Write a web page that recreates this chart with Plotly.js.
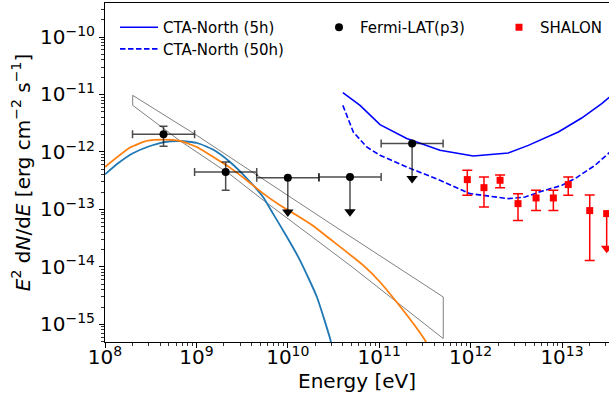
<!DOCTYPE html>
<html>
<head>
<meta charset="utf-8">
<script src="https://cdn.plot.ly/plotly-3.0.1.min.js"></script>
<style>html,body{margin:0;padding:0;background:#fff;}#chart{width:609px;height:401px;}</style>
</head>
<body>
<div id="chart"></div>
<script>
// ---------------- data ----------------
// tick decades
const xTickExp = [8, 9, 10, 11, 12, 13];
const yTickExp = [-15, -14, -13, -12, -11, -10];

// CTA-North sensitivity, 5h
const cta5_E = [4.0e10, 6.17e10, 1.02e11, 2.00e11, 4.62e11, 1.07e12, 2.58e12, 4.28e12, 9.12e12, 1.64e13, 2.72e13, 3.52e13];
const cta5_F = [1.08e-11, 6.47e-12, 2.99e-12, 1.71e-12, 1.07e-12, 8.49e-13, 9.57e-13, 1.30e-12, 2.22e-12, 3.89e-12, 6.93e-12, 9.82e-12];
// CTA-North sensitivity, 50h
const cta50_E = [4.0e10, 5.21e10, 7.29e10, 1.02e11, 2.00e11, 4.62e11, 9.84e11, 2.58e12, 3.94e12, 6.00e12, 9.93e12, 1.39e13, 2.30e13, 3.21e13, 3.52e13];
const cta50_F = [6.47e-12, 2.22e-12, 1.22e-12, 8.73e-13, 5.47e-13, 3.21e-13, 1.88e-13, 1.54e-13, 1.64e-13, 2.07e-13, 2.62e-13, 3.44e-13, 5.85e-13, 9.35e-13, 1.07e-12];

// Fermi-LAT (p3) points
const fermi_E    = [4.37e8, 2.09e9, 1.0e10, 4.79e10, 2.29e11];
const fermi_Elo  = [2.0e8, 9.55e8, 4.57e9, 2.19e10, 1.05e11];
const fermi_Ehi  = [9.55e8, 4.57e9, 2.19e10, 1.05e11, 5.0e11];
const fermi_F    = [2.03e-12, 4.48e-13, 3.57e-13, 3.66e-13, 1.40e-12];
const fermi_Fhi  = [2.79e-12, 6.68e-13, null, null, null];
const fermi_Flo  = [1.25e-12, 2.15e-13, 9.0e-14, 9.1e-14, 3.45e-13];
const fermi_UL   = [false, false, true, true, true];

// SHALON points
const shalon_E   = [9.2e11, 1.40e12, 2.10e12, 3.30e12, 5.20e12, 8.04e12, 1.17e13, 2.01e13, 3.08e13];
const shalon_F   = [3.30e-13, 2.39e-13, 3.21e-13, 1.26e-13, 1.58e-13, 1.58e-13, 2.70e-13, 9.53e-14, 8.45e-14];
const shalon_Fhi = [4.79e-13, 3.66e-13, 3.97e-13, 1.88e-13, 2.15e-13, 2.15e-13, 3.66e-13, 1.78e-13, null];
const shalon_Flo = [1.76e-13, 1.10e-13, 2.39e-13, 6.38e-14, 9.53e-14, 9.53e-14, 1.76e-13, 1.29e-14, 2.1e-14];
const shalon_UL  = [false, false, false, false, false, false, false, false, true];

// Model curves
const modelA_E = [1.0e8, 1.39e8, 2.02e8, 2.95e8, 4.32e8, 6.62e8, 1.02e9, 1.52e9, 2.33e9, 3.58e9, 5.36e9, 6.89e9, 9.79e9, 1.36e10, 2.08e10, 2.90e10, 3.13e10];
const modelA_F = [4.07e-13, 6.34e-13, 9.46e-13, 1.23e-12, 1.47e-12, 1.55e-12, 1.43e-12, 1.10e-12, 6.68e-13, 3.44e-13, 1.64e-13, 8.45e-14, 3.30e-14, 1.30e-14, 2.99e-15, 5.64e-16, 3.24e-16];
const modelB_E = [1.0e8, 1.88e8, 2.86e8, 4.35e8, 6.62e8, 1.01e9, 1.53e9, 2.33e9, 3.55e9, 5.40e9, 8.22e9, 1.25e10, 1.90e10, 2.90e10, 6.70e10, 1.02e11, 1.55e11, 2.36e11, 3.17e11, 3.42e11];
const modelB_F = [5.47e-13, 1.19e-12, 1.55e-12, 1.64e-12, 1.55e-12, 1.22e-12, 8.17e-13, 5.33e-13, 3.21e-13, 1.88e-13, 1.18e-13, 7.89e-14, 5.15e-14, 3.05e-14, 1.06e-14, 5.45e-15, 2.44e-15, 1.03e-15, 5.27e-16, 4.17e-16];

// Fermi butterfly (upper and lower edges)
const bfly_up_E  = [2.01e8, 1.01e9, 2.90e10, 5.02e11];
const bfly_up_F  = [9.66e-12, 1.94e-12, 5.73e-14, 2.99e-15];
const bfly_lo_E  = [2.01e8, 6.62e8, 2.33e9, 5.40e9, 2.07e10, 4.80e10, 5.02e11];
const bfly_lo_F  = [6.47e-12, 1.56e-12, 4.08e-13, 1.44e-13, 2.90e-14, 1.06e-14, 5.64e-16];

// ---------------- build traces ----------------
const FONT = 'DejaVu Sans, sans-serif';
function pick(arr, flags, want){ return arr.filter((v,i)=>flags[i]===want); }
function powLabel(e){ return '10<sup><span style="font-size:14px">' + (e < 0 ? '\u2212' : '') + Math.abs(e) + '</span></sup>'; }
function minorVals(exps){
  const out = [];
  for (let e = exps[0] - 1; e <= exps[exps.length - 1]; e++) for (let m = 2; m <= 9; m++) out.push(m * Math.pow(10, e));
  return out;
}

const bflyX = bfly_up_E.concat(bfly_lo_E.slice().reverse(), [bfly_up_E[0]]);
const bflyY = bfly_up_F.concat(bfly_lo_F.slice().reverse(), [bfly_up_F[0]]);

const fd = {E: pick(fermi_E, fermi_UL, false), lo: pick(fermi_Elo, fermi_UL, false), hi: pick(fermi_Ehi, fermi_UL, false),
            F: pick(fermi_F, fermi_UL, false), Fhi: pick(fermi_Fhi, fermi_UL, false), Flo: pick(fermi_Flo, fermi_UL, false)};
const fu = {E: pick(fermi_E, fermi_UL, true), lo: pick(fermi_Elo, fermi_UL, true), hi: pick(fermi_Ehi, fermi_UL, true),
            F: pick(fermi_F, fermi_UL, true), Flo: pick(fermi_Flo, fermi_UL, true)};
const sd = {E: pick(shalon_E, shalon_UL, false), F: pick(shalon_F, shalon_UL, false),
            Fhi: pick(shalon_Fhi, shalon_UL, false), Flo: pick(shalon_Flo, shalon_UL, false)};
const su = {E: pick(shalon_E, shalon_UL, true), F: pick(shalon_F, shalon_UL, true), Flo: pick(shalon_Flo, shalon_UL, true)};

const ERRC = 'rgba(0,0,0,0.7)';
const traces = [
  {x: bflyX, y: bflyY, mode:'lines', line:{color:'#808080', width:1}, showlegend:false, hoverinfo:'skip'},
  {x: modelA_E, y: modelA_F, mode:'lines', line:{color:'#1f77b4', width:1.8, shape:'spline', smoothing:0.5}, showlegend:false},
  {x: modelB_E, y: modelB_F, mode:'lines', line:{color:'#ff7f0e', width:1.8, shape:'spline', smoothing:0.5}, showlegend:false},
  {x: cta5_E, y: cta5_F, mode:'lines', name:'CTA-North (5h)', line:{color:'#0000ff', width:1.6}, legend:'legend'},
  {x: cta50_E, y: cta50_F, mode:'lines', name:'CTA-North (50h)', line:{color:'#0000ff', width:1.6, dash:'5.5px,2.5px'}, legend:'legend4'},
  {x: fu.E, y: fu.F, mode:'markers', marker:{color:'#000', size:8, symbol:'circle'}, showlegend:false,
   error_x:{type:'data', symmetric:false, array: fu.hi.map((v,i)=>v-fu.E[i]), arrayminus: fu.lo.map((v,i)=>fu.E[i]-v), color:ERRC, thickness:1.5, width:4},
   error_y:{type:'data', symmetric:false, array: fu.F.map(()=>0), arrayminus: fu.Flo.map((v,i)=>fu.F[i]-v), color:ERRC, thickness:1.5, width:0}},
  {x: fu.E, y: fu.Flo, mode:'markers', marker:{color:'#000', size:10, symbol:'triangle-down'}, showlegend:false},
  {x: fd.E, y: fd.F, mode:'markers', name:'Fermi-LAT(p3)', legend:'legend2', marker:{color:'#000', size:8, symbol:'circle'},
   error_x:{type:'data', symmetric:false, array: fd.hi.map((v,i)=>v-fd.E[i]), arrayminus: fd.lo.map((v,i)=>fd.E[i]-v), color:ERRC, thickness:1.5, width:4},
   error_y:{type:'data', symmetric:false, array: fd.Fhi.map((v,i)=>v-fd.F[i]), arrayminus: fd.Flo.map((v,i)=>fd.F[i]-v), color:ERRC, thickness:1.5, width:4}},
  {x: sd.E, y: sd.F, mode:'markers', name:'SHALON', legend:'legend3', marker:{color:'#ff0000', size:7, symbol:'square'},
   error_y:{type:'data', symmetric:false, array: sd.Fhi.map((v,i)=>v-sd.F[i]), arrayminus: sd.Flo.map((v,i)=>sd.F[i]-v), color:'#ff0000', thickness:1.5, width:5}},
  {x: su.E, y: su.F, mode:'markers', marker:{color:'#ff0000', size:7, symbol:'square'}, showlegend:false,
   error_y:{type:'data', symmetric:false, array: su.F.map(()=>0), arrayminus: su.Flo.map((v,i)=>su.F[i]-v), color:'#ff0000', thickness:1.5, width:0}},
  {x: su.E, y: su.Flo, mode:'markers', marker:{color:'#ff0000', size:10, symbol:'triangle-down'}, showlegend:false}
];

const L = 105, R = 609, W = R - L, PH = 339;
function px(p){ return (p - L) / W; }
function py(p){ return 1 - p / PH; }
const legBase = {bgcolor:'rgba(0,0,0,0)', borderwidth:0, font:{family:FONT, size:15, color:'#000'},
                 xanchor:'left', yanchor:'top', tracegroupgap:0, orientation:'v'};
const axBase = {type:'log', showline:true, linecolor:'#000', linewidth:1, showgrid:false, zeroline:false,
                ticks:'outside', ticklen:5, tickwidth:1, tickcolor:'#000', tickmode:'array',
                tickfont:{family:FONT, size:20, color:'#000'}};

const layout = {
  width: 609, height: 401,
  margin: {l:105, r:0, t:3, b:59, pad:0},
  paper_bgcolor:'#fff', plot_bgcolor:'#fff',
  font:{family:FONT, size:20, color:'#000'},
  showlegend:true,
  legend:  Object.assign({}, legBase, {x: px(115), y: py(8), itemwidth:38}),
  legend4: Object.assign({}, legBase, {x: px(115), y: py(29.6), itemwidth:38}),
  legend2: Object.assign({}, legBase, {x: px(318), y: py(8), itemwidth:32}),
  legend3: Object.assign({}, legBase, {x: px(498), y: py(8), itemwidth:32}),
  xaxis: Object.assign({}, axBase, {range:[8, 13.514], mirror:true, ticklabelstandoff:-8,
          tickvals: xTickExp.map(e=>Math.pow(10,e)), ticktext: xTickExp.map(powLabel),
          minor:{tickmode:'array', tickvals: minorVals(xTickExp), ticks:'outside', ticklen:3, tickwidth:0.8, tickcolor:'#000', showgrid:false},
          title:{text:'Energy [eV]', font:{family:FONT, size:20, color:'#000'}, standoff:4}}),
  yaxis: Object.assign({}, axBase, {range:[-15.308, -9.408], mirror:false,
          tickvals: yTickExp.map(e=>Math.pow(10,e)), ticktext: yTickExp.map(powLabel),
          minor:{tickmode:'array', tickvals: minorVals(yTickExp), ticks:'outside', ticklen:3, tickwidth:0.8, tickcolor:'#000', showgrid:false},
          title:{text:'<i>E</i><sup>2</sup> d<i>N</i>/d<i>E</i> [erg cm<sup>\u22122</sup> s<sup>\u22121</sup>]', font:{family:FONT, size:20, color:'#000'}, standoff:4}})
};

Plotly.newPlot('chart', traces, layout, {staticPlot:true, displayModeBar:false});
</script>
</body>
</html>
